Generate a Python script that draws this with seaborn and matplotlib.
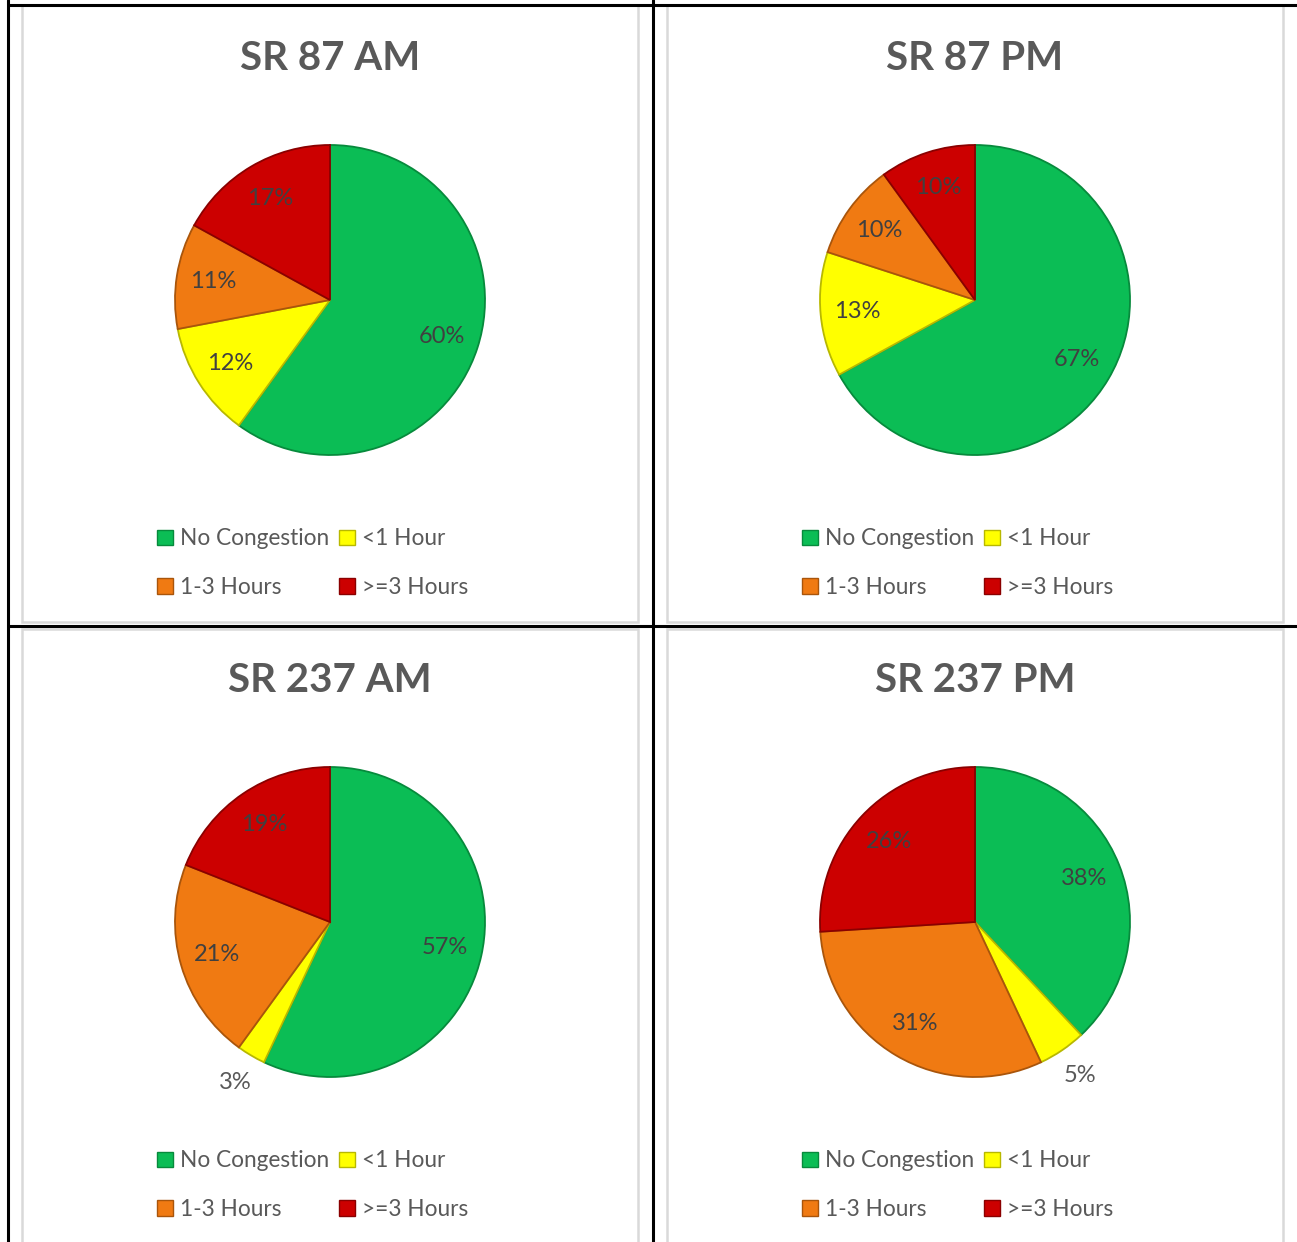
import numpy as np
import matplotlib.pyplot as plt
import seaborn as sns
from matplotlib.patches import Patch, Rectangle
from matplotlib.lines import Line2D

# datos de los cuatro graficos
categories = ["No Congestion", "<1 Hour", "1-3 Hours", ">=3 Hours"]
titles = ["SR 87 AM", "SR 87 PM", "SR 237 AM", "SR 237 PM"]
sr87_am = [60, 12, 11, 17]
sr87_pm = [67, 13, 10, 10]
sr237_am = [57, 3, 21, 19]
sr237_pm = [38, 5, 31, 26]
series = [sr87_am, sr87_pm, sr237_am, sr237_pm]

colors = ["#0bbd55", "#ffff00", "#f07a12", "#cc0000"]
edges = ["#078a3c", "#b8b800", "#a9550b", "#8a0000"]

sns.set_theme(style="white")
plt.rcParams["font.family"] = ["Lato", "DejaVu Sans"]

W, H = 1297, 1242
fig = plt.figure(figsize=(W / 100, H / 100), dpi=100)


def fx(px):
    return px / W


def fy(py):
    return 1 - py / H


# bordes de la tabla
for x in (8, 653):
    fig.add_artist(Line2D([fx(x), fx(x)], [0, 1], color="black", lw=2.2))
for y in (5, 626):
    fig.add_artist(Line2D([fx(8), 1], [fy(y), fy(y)], color="black", lw=2.2))

R = 155  # radio del pie en px
half = R * 1.3

for i, (title, vals) in enumerate(zip(titles, series)):
    row, col = divmod(i, 2)
    ox, oy = col * 645, row * 622

    # marco gris del grafico
    top = 5 if row == 0 else 629
    bottom = 622 if row == 0 else 1250
    fig.add_artist(Rectangle((fx(22 + ox), fy(bottom)), fx(616), fy(top) - fy(bottom),
                             fill=False, edgecolor="#d9d9d9", lw=1.8))

    cx, cy = 330 + ox, 300 + oy
    ax = fig.add_axes([fx(cx - half), fy(cy + half), fx(2 * half), 2 * half / H])
    wedges, texts, autotexts = ax.pie(
        vals, colors=colors, startangle=90, counterclock=False,
        autopct="%d%%", pctdistance=0.76,
        wedgeprops=dict(linewidth=1.3),
        textprops=dict(fontsize=17, color="#404040"))
    for w, ec in zip(wedges, edges):
        w.set_edgecolor(ec)
    for v, w, t in zip(vals, wedges, autotexts):
        if v < 6:
            # etiquetas pequeñas fuera del pie
            th = np.deg2rad((w.theta1 + w.theta2) / 2)
            t.set_position((1.2 * np.cos(th), 1.2 * np.sin(th)))
            t.set_color("#595959")
    ax.set_xlim(-1.3, 1.3)
    ax.set_ylim(-1.3, 1.3)
    ax.set_aspect("equal")
    ax.axis("off")

    fig.text(fx(330 + ox), fy(58 + oy), title, ha="center", va="center",
             fontsize=29, fontweight="bold", color="#595959")

    order = [0, 2, 1, 3]
    handles = [Patch(facecolor=colors[k], edgecolor=edges[k], lw=1) for k in order]
    labels = [categories[k] for k in order]
    fig.legend(handles, labels, ncol=2, loc="center left",
               bbox_to_anchor=(fx(157 + ox), fy(563 + oy)),
               frameon=False, borderpad=0, borderaxespad=0,
               handlelength=0.7, handleheight=0.7, handletextpad=0.3,
               columnspacing=0.45, labelspacing=1.2, fontsize=16.3,
               labelcolor="#595959")

fig.savefig("out.png", dpi=100, facecolor="white")
